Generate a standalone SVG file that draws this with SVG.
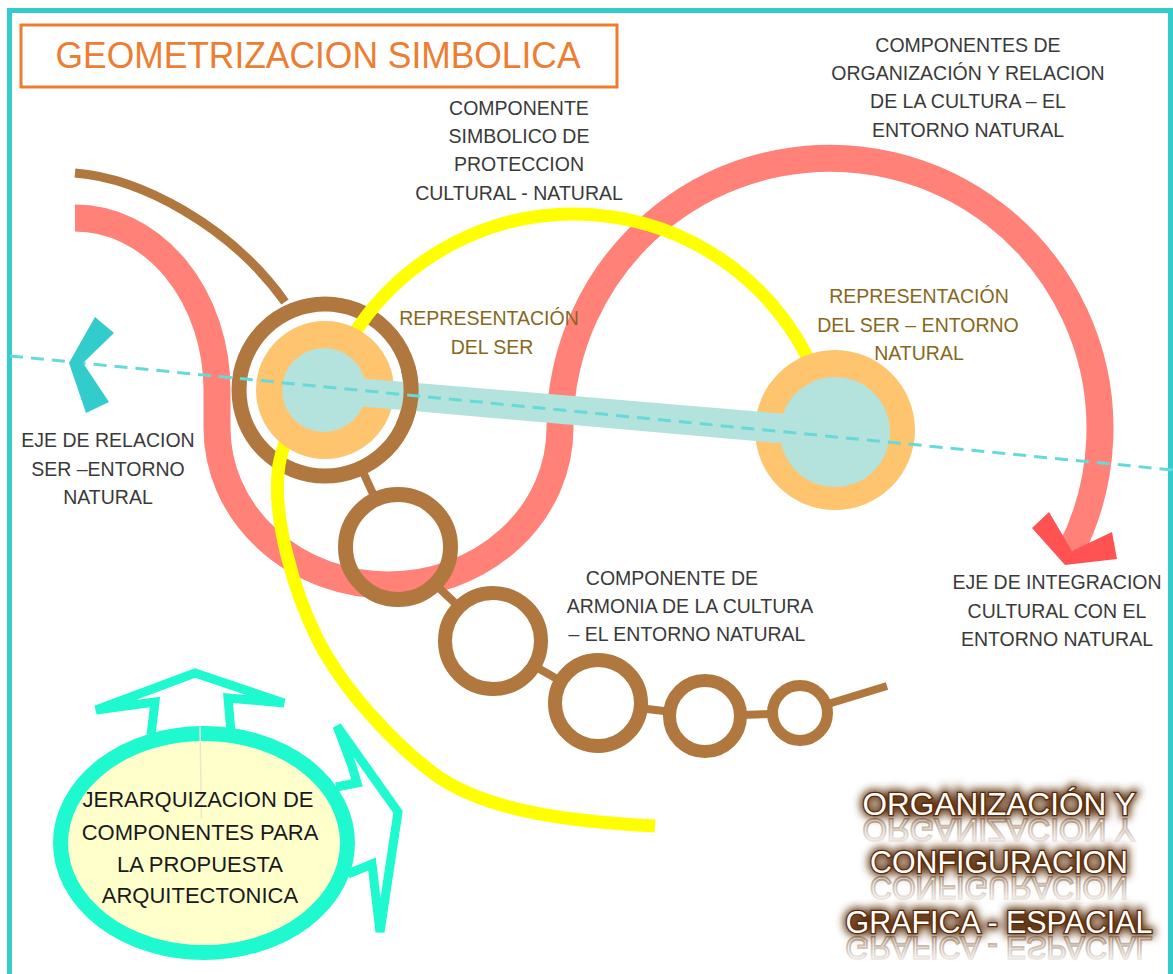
<svg xmlns="http://www.w3.org/2000/svg" xmlns:xlink="http://www.w3.org/1999/xlink" width="1173" height="974" viewBox="0 0 1173 974">
<defs>
<style>
.lbl{font-family:"Liberation Sans",Arial,sans-serif;font-size:19.5px;fill:#3a3a3a;text-anchor:middle}
.olive{font-family:"Liberation Sans",Arial,sans-serif;font-size:19.5px;fill:#86681c;text-anchor:middle}
.blk{font-family:"Liberation Sans",Arial,sans-serif;font-size:22px;fill:#1a1a1a;text-anchor:middle}
.big{font-family:"Liberation Sans",Arial,sans-serif;font-size:32px;text-anchor:middle}
.brown{stroke:#B0773E;fill:none}
.aqua{stroke:#1EF9D0;fill:none;stroke-width:9;stroke-miterlimit:4}
</style>
<filter id="glow" x="-20%" y="-60%" width="140%" height="220%"><feGaussianBlur stdDeviation="4"/></filter>
<linearGradient id="reflF" x1="0" y1="0" x2="0" y2="1"><stop offset="0" stop-color="#ffffff" stop-opacity="0"/><stop offset="1" stop-color="#ffffff" stop-opacity="0.8"/></linearGradient>
<linearGradient id="reflS" x1="0" y1="0" x2="0" y2="1"><stop offset="0" stop-color="#6a3a12" stop-opacity="0"/><stop offset="1" stop-color="#6a3a12" stop-opacity="0.6"/></linearGradient>
<text id="t1" class="big" x="999" y="815" textLength="273" lengthAdjust="spacingAndGlyphs">ORGANIZACIÓN Y</text>
<text id="t2" class="big" x="999" y="873" textLength="258" lengthAdjust="spacingAndGlyphs">CONFIGURACION</text>
<text id="t3" class="big" x="999" y="933" textLength="307" lengthAdjust="spacingAndGlyphs">GRAFICA - ESPACIAL</text>
</defs>
<rect width="1173" height="974" fill="#ffffff"/>
<rect id="marco" x="9.5" y="10.5" width="1161" height="1000" fill="none" stroke="#33CCCC" stroke-width="5"/>

<g id="titulo">
<rect x="21" y="25" width="596" height="62" fill="none" stroke="#ED7D31" stroke-width="3"/>
<text x="318" y="68" font-family="Liberation Sans, Arial, sans-serif" font-size="36" fill="#ED7D31" text-anchor="middle" textLength="525" lengthAdjust="spacingAndGlyphs">GEOMETRIZACION SIMBOLICA</text>
</g>

<g id="eje-integracion-curva">
<path d="M75,218 A142,172 0 0 1 217,390 L217,428 A171.5,157 0 0 0 560,428 A270,270 0 1 1 1071,550" fill="none" stroke="#FF8178" stroke-width="27"/>
</g>

<g id="componente-armonia-cadena" class="brown">
<path d="M75,173 C140,178 230,225 285,302" stroke-width="9"/>
<circle cx="325" cy="390" r="86" stroke-width="15"/>
<line x1="363" y1="472" x2="374" y2="496" stroke-width="8"/>
<circle cx="398" cy="547" r="52.5" stroke-width="15"/>
<line x1="437" y1="586" x2="457" y2="605" stroke-width="8"/>
<circle cx="493" cy="641" r="48" stroke-width="14"/>
<line x1="536" y1="667" x2="559" y2="680" stroke-width="8"/>
<circle cx="598" cy="703" r="43" stroke-width="14"/>
<line x1="643" y1="708.5" x2="668" y2="711.5" stroke-width="8"/>
<circle cx="705" cy="716" r="35.5" stroke-width="13"/>
<line x1="740" y1="715" x2="773" y2="714" stroke-width="8"/>
<circle cx="800" cy="713" r="27.5" stroke-width="11"/>
<line x1="828" y1="704" x2="887" y2="686" stroke-width="8"/>
</g>

<g id="componente-proteccion-curva">
<path d="M807.4,357.1 A262,262 0 0 0 359.4,325.7 C336.4,358.5 286,420 279,465 C271.3,514.4 293.3,591 318,640 C342.8,689 393,743 433,773 C485,812 575,822 655,826" fill="none" stroke="#FFFF00" stroke-width="13"/>
</g>

<g id="representacion-ser">
<circle cx="325" cy="390" r="69" fill="#FFC46E"/>
<circle cx="835" cy="430" r="80" fill="#FFC46E"/>
<polygon points="345,377 800,415 800,445 345,405" fill="#B3E3DC"/>
<circle cx="324" cy="390" r="42" fill="#B3E3DC"/>
<circle cx="835" cy="432" r="55" fill="#B3E3DC"/>
<path d="M408.1,367.7 A86,86 0 0 1 402.9,426.3" class="brown" stroke-width="15"/>
</g>

<g id="eje-relacion">
<line x1="10" y1="356" x2="1173" y2="470" stroke="#66D9D9" stroke-width="3" stroke-dasharray="13 8"/>
<polygon points="95,317 114,333 83,363 109,402 86,413 69,363" fill="#33CCCC"/>
</g>

<g id="flecha-integracion">
<polygon points="1032,528 1049,512 1072,551 1112,532 1117,559 1065,565" fill="#FF5252"/>
</g>

<g id="jerarquizacion">
<path class="aqua" d="M151,735 L155,702 L96,710 L195,673 L284,703 L228,698 L231,732"/>
<path class="aqua" d="M336,787 L357,783 L352,766 L337,726 L398,812 L380,932 L372,864 L348,874"/>
<ellipse cx="204" cy="843" rx="143.5" ry="109.5" fill="#FFFFCC" stroke="#1EF9D0" stroke-width="15"/>
<line x1="200" y1="727" x2="201.5" y2="818" stroke="#F1E4CF" stroke-width="1.5"/>
<text class="blk" x="198" y="807">JERARQUIZACION DE</text>
<text class="blk" x="200" y="840">COMPONENTES PARA</text>
<text class="blk" x="200" y="872">LA PROPUESTA</text>
<text class="blk" x="200" y="903">ARQUITECTONICA</text>
</g>

<g id="organizacion-configuracion">
<g filter="url(#glow)" fill="#5e300c" stroke="#5e300c" stroke-width="7">
<use xlink:href="#t1"/><use xlink:href="#t2"/><use xlink:href="#t3"/>
</g>
<g fill="url(#reflF)" stroke="url(#reflS)" stroke-width="2">
<use xlink:href="#t1" transform="translate(0,1634) scale(1,-1)"/>
<use xlink:href="#t2" transform="translate(0,1750) scale(1,-1)"/>
<use xlink:href="#t3" transform="translate(0,1870) scale(1,-1)"/>
</g>
<g fill="#ffffff" stroke="#5a2a08" stroke-width="2.6" paint-order="stroke">
<use xlink:href="#t1"/><use xlink:href="#t2"/><use xlink:href="#t3"/>
</g>
</g>

<g id="etiquetas">
<text class="lbl" x="519" y="115">COMPONENTE</text>
<text class="lbl" x="519" y="143">SIMBOLICO DE</text>
<text class="lbl" x="519" y="171">PROTECCION</text>
<text class="lbl" x="519" y="200">CULTURAL - NATURAL</text>
<text class="lbl" x="968" y="52">COMPONENTES DE</text>
<text class="lbl" x="968" y="80">ORGANIZACIÓN Y RELACION</text>
<text class="lbl" x="968" y="108">DE LA CULTURA – EL</text>
<text class="lbl" x="968" y="137">ENTORNO NATURAL</text>
<text class="olive" x="489" y="325">REPRESENTACIÓN</text>
<text class="olive" x="492" y="354">DEL SER</text>
<text class="olive" x="919" y="303">REPRESENTACIÓN</text>
<text class="olive" x="918" y="332">DEL SER – ENTORNO</text>
<text class="olive" x="919" y="360">NATURAL</text>
<text class="lbl" x="108" y="447">EJE DE RELACION</text>
<text class="lbl" x="108" y="476">SER –ENTORNO</text>
<text class="lbl" x="108" y="504">NATURAL</text>
<text class="lbl" x="672" y="585">COMPONENTE DE</text>
<text class="lbl" x="690" y="613">ARMONIA DE LA CULTURA</text>
<text class="lbl" x="687" y="641">– EL ENTORNO NATURAL</text>
<text class="lbl" x="1057" y="589">EJE DE INTEGRACION</text>
<text class="lbl" x="1057" y="618">CULTURAL CON EL</text>
<text class="lbl" x="1057" y="646">ENTORNO NATURAL</text>
</g>
</svg>
